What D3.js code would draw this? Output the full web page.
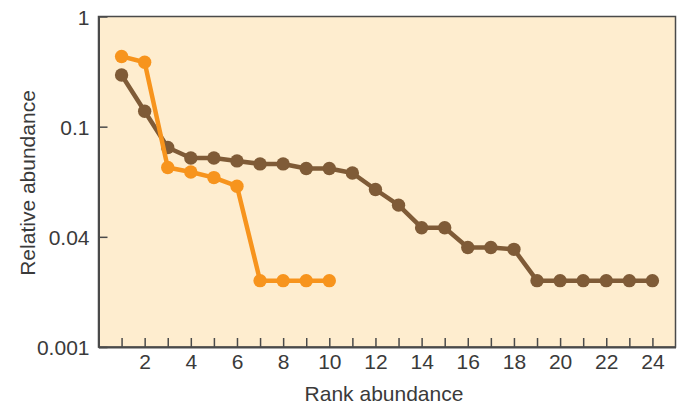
<!DOCTYPE html>
<html><head><meta charset="utf-8">
<script src="https://cdn.jsdelivr.net/npm/d3@7"></script>
<style>
html,body{margin:0;padding:0;background:#fff;}
svg{display:block;}
text{font-family:"Liberation Sans",Arial,sans-serif;fill:#3a3a3a;}
</style></head>
<body><svg id="chart" width="677" height="407"></svg>
<script>
const ranks = d3.range(1, 25);
const brownValues = [0.294,0.138,0.0646,0.052,0.052,0.0489,0.0459,0.0459,0.0417,0.0417,0.038,0.0269,0.0194,0.0121,0.0121,0.008,0.008,0.0077,0.004,0.004,0.004,0.004,0.004,0.004];
const orangeValues = [0.434,0.384,0.0426,0.0388,0.0345,0.0288,0.004,0.004,0.004,0.004];
const yTickValues = [1, 0.1, 0.01, 0.001];
const yTickLabels = ["1", "0.1", "0.04", "0.001"];
const xTickValues = d3.range(1, 25);
const xLabelValues = [2,4,6,8,10,12,14,16,18,20,22,24];

const svg = d3.select("#chart");
const mLeft = 98.5, mRight = 675.5, mTop = 16.5, mBottom = 347;
const x = d3.scaleLinear().domain([0, 25]).range([mLeft, mRight]);
const y = d3.scaleLog().domain([0.001, 1]).range([mBottom, mTop]);
const font = "Roboto, 'Liberation Sans', sans-serif";
const textColor = "#3c3c3c";

svg.append("rect").attr("x", mLeft).attr("y", mTop).attr("width", mRight-mLeft).attr("height", mBottom-mTop)
  .attr("fill", "#feedcf").attr("stroke", "#4a4a4a").attr("stroke-width", 1.5);

const axisColor = "#4a4a4a";
const xAxis = svg.append("g").attr("transform", `translate(0,${mBottom})`)
  .call(d3.axisBottom(x).tickValues(xTickValues).tickSizeInner(-9).tickSizeOuter(0).tickFormat(d => xLabelValues.includes(d) ? d : ""));
xAxis.select(".domain").attr("stroke", axisColor).attr("stroke-width", 2);
xAxis.selectAll(".tick line").attr("stroke", axisColor).attr("stroke-width", 1.5);
xAxis.selectAll(".tick text").attr("font-size", 21).attr("font-family", font).attr("font-weight", 300)
  .attr("fill", textColor).attr("y", 7).attr("dy", "0.71em");

const yAxis = svg.append("g").attr("transform", `translate(${mLeft},0)`)
  .call(d3.axisLeft(y).tickValues(yTickValues).tickSizeInner(-9).tickSizeOuter(0).tickFormat((d,i) => yTickLabels[i]));
yAxis.select(".domain").attr("stroke", axisColor).attr("stroke-width", 2);
yAxis.selectAll(".tick line").attr("stroke", axisColor).attr("stroke-width", 1.5);
yAxis.selectAll(".tick text").attr("font-size", 21).attr("font-family", font).attr("font-weight", 300)
  .attr("fill", textColor).attr("x", -9).attr("dy", "0.36em");

const line = d3.line().x((d,i) => x(i+1)).y(d => y(d));
function series(vals, color) {
  svg.append("path").datum(vals).attr("d", line).attr("fill", "none")
    .attr("stroke", color).attr("stroke-width", 4.5).attr("stroke-linejoin", "round");
  svg.append("g").selectAll("circle").data(vals).join("circle")
    .attr("cx", (d,i) => x(i+1)).attr("cy", d => y(d)).attr("r", 6.7).attr("fill", color);
}
series(brownValues, "#7f5b37");
series(orangeValues, "#f7941d");

svg.append("text").attr("x", 384).attr("y", 401).attr("text-anchor", "middle")
  .attr("font-size", 21).attr("font-family", font).attr("font-weight", 300).attr("fill", textColor).text("Rank abundance");
svg.append("text").attr("transform", `translate(35,183) rotate(-90)`).attr("text-anchor", "middle")
  .attr("font-size", 21).attr("font-family", font).attr("font-weight", 300).attr("fill", textColor).text("Relative abundance");
</script></body></html>
